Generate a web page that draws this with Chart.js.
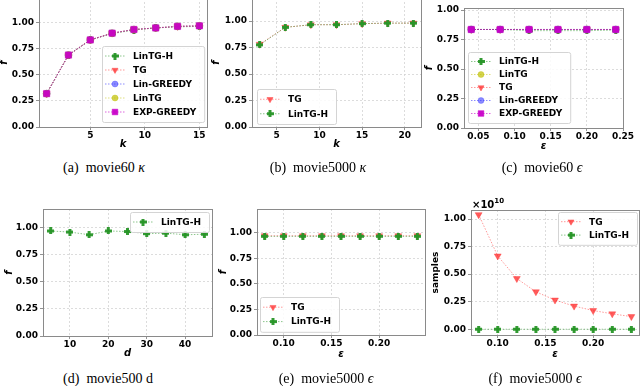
<!DOCTYPE html>
<html lang="en">
<head>
<meta charset="UTF-8">
<title>movie experiments</title>
<script src="https://cdn.jsdelivr.net/npm/chart.js@4"></script>
<style>
  html, body { margin: 0; padding: 0; background: #fff; }
  #fig { position: relative; width: 640px; height: 386px; overflow: hidden; background: #fff; }
  #fig canvas { position: absolute; }
  .cap { position: absolute; font-family: 'Liberation Serif', 'Times New Roman', serif; font-size: 14px;
         white-space: nowrap; transform: translate(-50%, -50%); color: #000; }
</style>
</head>
<body>
<div id="fig">
  <canvas id="cA"></canvas>
  <canvas id="cB"></canvas>
  <canvas id="cC"></canvas>
  <canvas id="cD"></canvas>
  <canvas id="cE"></canvas>
  <canvas id="cF"></canvas>
  <div class="cap" style="left:104px;top:168px">(a)&nbsp; movie60 <i>κ</i></div>
  <div class="cap" style="left:318px;top:168px">(b)&nbsp; movie5000 <i>κ</i></div>
  <div class="cap" style="left:542px;top:168px">(c)&nbsp; movie60 <i>ϵ</i></div>
  <div class="cap" style="left:108px;top:379px">(d)&nbsp; movie500 d</div>
  <div class="cap" style="left:326px;top:379px">(e)&nbsp; movie5000 <i>ϵ</i></div>
  <div class="cap" style="left:535px;top:379px">(f)&nbsp; movie5000 <i>ϵ</i></div>
</div>
<script>
// ---- data ----
// (a) movie60, f vs k
const kA = [1, 3, 5, 7, 9, 11, 13, 15];
const aLinTGH    = [0.32, 0.69, 0.835, 0.895, 0.93, 0.95, 0.96, 0.965];
const aTG        = [0.32, 0.69, 0.835, 0.90, 0.935, 0.95, 0.965, 0.97];
const aLinGreedy = [0.32, 0.69, 0.835, 0.90, 0.935, 0.95, 0.965, 0.97];
const aLinTG     = [0.32, 0.69, 0.835, 0.90, 0.935, 0.95, 0.965, 0.97];
const aExpGreedy = [0.32, 0.69, 0.835, 0.90, 0.935, 0.95, 0.965, 0.97];

// (b) movie5000, f vs k
const kB = [3, 6, 9, 12, 15, 18, 21];
const bTG     = [0.78, 0.94, 0.965, 0.965, 0.975, 0.98, 0.98];
const bLinTGH = [0.775, 0.94, 0.965, 0.965, 0.975, 0.98, 0.98];

// (c) movie60, f vs epsilon
const epsC = [0.04, 0.08, 0.12, 0.16, 0.20, 0.24];
const cLinTGH    = [0.835, 0.835, 0.825, 0.825, 0.825, 0.83];
const cLinTG     = [0.835, 0.835, 0.835, 0.835, 0.835, 0.835];
const cTG        = [0.835, 0.835, 0.835, 0.835, 0.835, 0.835];
const cLinGreedy = [0.835, 0.835, 0.835, 0.835, 0.835, 0.835];
const cExpGreedy = [0.835, 0.835, 0.835, 0.835, 0.835, 0.835];

// (d) movie500, f vs d
const dimD = [5, 10, 15, 20, 25, 30, 35, 40, 45];
const dLinTGH = [0.97, 0.96, 0.935, 0.97, 0.965, 0.945, 0.95, 0.935, 0.94];

// (e) movie5000, f vs epsilon
const epsE = [0.08, 0.10, 0.12, 0.14, 0.16, 0.18, 0.20, 0.22, 0.24];
const eTG     = [0.97, 0.97, 0.97, 0.97, 0.97, 0.97, 0.97, 0.97, 0.97];
const eLinTGH = [0.965, 0.965, 0.965, 0.965, 0.965, 0.965, 0.965, 0.965, 0.965];

// (f) movie5000, samples vs epsilon
const fTG     = [1.04e10, 0.665e10, 0.46e10, 0.34e10, 0.265e10, 0.21e10, 0.17e10, 0.14e10, 0.115e10];
const fLinTGH = [2e6, 2e6, 2e6, 2e6, 2e6, 2e6, 2e6, 2e6, 2e6];

// tick labels
const fTicks = [0, 0.25, 0.5, 0.75, 1.0];
const sampleTicks = [0, 0.25e10, 0.5e10, 0.75e10, 1.0e10];
const kTicksA = [5, 10, 15];
const kTicksB = [5, 10, 15, 20];
const epsTicksC = [0.05, 0.10, 0.15, 0.20, 0.25];
const dTicks = [10, 20, 30, 40];
const epsTicksE = [0.10, 0.15, 0.20];

// ---- styles ----
const TICK_FONT = { family: 'DejaVu Sans', size: 9, weight: 'bold' };
const AXIS_FONT = { family: 'DejaVu Sans', size: 10, weight: 'bold', style: 'italic' };

// filled plus marker (matplotlib "P")
function plusMarker(color, size) {
  const c = document.createElement('canvas');
  c.width = c.height = size;
  const g = c.getContext('2d');
  g.fillStyle = color;
  const t = 3, o = (size - t) / 2;
  g.fillRect(o, 0, t, size);
  g.fillRect(0, o, size, t);
  return c;
}

const styles = {
  'LinTG-H':    { line: 'rgba(0,128,0,0.45)', fill: 'rgba(30,145,30,0.9)', pointStyle: plusMarker('rgba(40,150,40,0.95)', 7), radius: 3.5 },
  'TG':         { line: 'rgba(255,0,0,0.4)', fill: 'rgba(255,40,40,0.75)', pointStyle: 'triangle', rotation: 180, radius: 4 },
  'Lin-GREEDY': { line: 'rgba(0,0,255,0.45)', fill: 'rgba(60,60,255,0.6)', pointStyle: 'circle', radius: 3.5 },
  'LinTG':      { line: 'rgba(191,191,0,0.5)', fill: 'rgba(191,191,0,0.7)', pointStyle: 'circle', radius: 3.5 },
  'EXP-GREEDY': { line: 'rgba(200,0,200,0.6)', fill: 'rgba(200,0,200,0.95)', pointStyle: 'rect', radius: 4.5 }
};

function series(name, xs, ys) {
  const s = styles[name];
  return {
    label: name,
    data: xs.map((x, i) => ({ x: x, y: ys[i] })),
    borderColor: s.line,
    borderWidth: 1,
    borderDash: [1.5, 1.5],
    pointStyle: s.pointStyle,
    pointRotation: s.rotation || 0,
    pointRadius: s.radius,
    pointBackgroundColor: s.fill,
    pointBorderColor: s.fill,
    pointBorderWidth: 0.5,
    tension: 0
  };
}

// legend with box, drawn inside the axes like matplotlib
const boxLegend = {
  id: 'boxLegend',
  afterDatasetsDraw(chart, args, o) {
    if (!o || !o.order) return;
    const ctx = chart.ctx, a = chart.chartArea;
    ctx.save();
    ctx.font = 'bold 9px "DejaVu Sans"';
    const tw = Math.max(...o.order.map(n => ctx.measureText(n).width));
    const x0 = Math.round(a.left + o.x), y0 = Math.round(a.top + o.y);
    const w = 34 + tw + 5, h = o.order.length * o.row + 6;
    ctx.fillStyle = 'rgba(255,255,255,0.85)';
    ctx.strokeStyle = '#d4d4d4';
    ctx.lineWidth = 1;
    ctx.beginPath();
    ctx.roundRect(x0 + 0.5, y0 + 0.5, w, h, 2);
    ctx.fill();
    ctx.stroke();
    o.order.forEach((name, i) => {
      const ds = chart.data.datasets.find(d => d.label === name);
      const cy = y0 + 3 + o.row * (i + 0.5);
      ctx.strokeStyle = ds.borderColor;
      ctx.lineWidth = 1;
      ctx.setLineDash(ds.borderDash);
      ctx.beginPath();
      ctx.moveTo(x0 + 3, cy);
      ctx.lineTo(x0 + 23, cy);
      ctx.stroke();
      ctx.setLineDash([]);
      ctx.fillStyle = ds.pointBackgroundColor;
      ctx.strokeStyle = ds.pointBorderColor;
      ctx.lineWidth = ds.pointBorderWidth;
      Chart.helpers.drawPoint(ctx, {
        pointStyle: ds.pointStyle, rotation: ds.pointRotation, radius: ds.pointRadius - 0.5, borderWidth: ds.pointBorderWidth
      }, x0 + 13, cy);
      ctx.fillStyle = '#000';
      ctx.textBaseline = 'middle';
      ctx.textAlign = 'left';
      ctx.fillText(name, x0 + 31, cy + 0.5);
    });
    ctx.restore();
  }
};

// grey frame around the axes, plus optional offset text (x10^10)
const frame = {
  id: 'frame',
  beforeDatasetsDraw(chart) {
    const ctx = chart.ctx, a = chart.chartArea;
    ctx.save();
    ctx.strokeStyle = '#8a8a8a';
    ctx.lineWidth = 1;
    ctx.strokeRect(Math.round(a.left) + 0.5, Math.round(a.top) + 0.5,
                   Math.round(a.right - a.left), Math.round(a.bottom - a.top));
    ctx.restore();
  },
  afterDraw(chart, args, o) {
    if (!o || !o.offset) return;
    const ctx = chart.ctx, a = chart.chartArea;
    ctx.save();
    ctx.fillStyle = '#000';
    ctx.textBaseline = 'alphabetic';
    ctx.font = 'bold 10px "DejaVu Sans"';
    ctx.fillText('×10', a.left + 1, a.top - 2);
    const w = ctx.measureText('×10').width;
    ctx.font = 'bold 7px "DejaVu Sans"';
    ctx.fillText(o.offset, a.left + 1 + w, a.top - 7);
    ctx.restore();
  }
};

function axis(min, max, ticks, fmt, size, title, titleFont, isX) {
  return {
    type: 'linear',
    min: min,
    max: max,
    afterFit: s => { if (isX) s.height = size; else s.width = size; },
    afterBuildTicks: s => { s.ticks = ticks.map(v => ({ value: v })); },
    ticks: { font: TICK_FONT, color: '#000', padding: isX ? 0 : 2, maxRotation: 0, autoSkip: false, callback: fmt },
    grid: { color: '#d4d4d4', lineWidth: 0.8, tickLength: 3, tickColor: '#777', tickBorderDash: [], tickWidth: 0.8 },
    border: { display: false, dash: [2, 2] },
    title: { display: true, text: title, font: titleFont, color: '#000', padding: 0 }
  };
}

const intFmt = v => String(v);
const fix2 = v => v.toFixed(2);
const sciFmt = v => (v / 1e10).toFixed(2);

function makeChart(id, g, datasets, xs, ys, plugins) {
  const cv = document.getElementById(id);
  cv.width = g.width;
  cv.height = g.height;
  cv.style.left = g.left + 'px';
  cv.style.top = g.top + 'px';
  return new Chart(cv, {
    type: 'line',
    data: { datasets: datasets },
    options: {
      responsive: false,
      animation: false,
      devicePixelRatio: 1,
      layout: { autoPadding: false, padding: { left: 0, bottom: 0, top: g.padT, right: g.padR } },
      scales: { x: xs, y: ys },
      plugins: Object.assign({ legend: { display: false }, tooltip: { enabled: false } }, plugins)
    },
    plugins: [frame, boxLegend]
  });
}

// (a)
makeChart('cA', { left: -2, top: -10, width: 219, height: 160, padT: 8, padR: 10 },
  [series('EXP-GREEDY', kA, aExpGreedy), series('LinTG', kA, aLinTG), series('Lin-GREEDY', kA, aLinGreedy),
   series('TG', kA, aTG), series('LinTG-H', kA, aLinTGH)],
  axis(0.3, 15.7, kTicksA, intFmt, 23, 'k', AXIS_FONT, true),
  axis(0, 1.237, fTicks, fix2, 41, 'f', AXIS_FONT, false),
  { boxLegend: { x: 63, y: 48, row: 14, order: ['LinTG-H', 'TG', 'Lin-GREEDY', 'LinTG', 'EXP-GREEDY'] } });

// (b)
makeChart('cB', { left: 210, top: -10, width: 219, height: 160, padT: 8, padR: 8 },
  [series('LinTG-H', kB, bLinTGH), series('TG', kB, bTG)],
  axis(2.1, 21.9, kTicksB, intFmt, 23, 'k', AXIS_FONT, true),
  axis(0, 1.217, fTicks, fix2, 42, 'f', AXIS_FONT, false),
  { boxLegend: { x: 4.7, y: 90.7, row: 14.5, order: ['TG', 'LinTG-H'] } });

// (c)
makeChart('cC', { left: 423, top: 0, width: 217, height: 152, padT: 8, padR: 17 },
  [series('EXP-GREEDY', epsC, cExpGreedy), series('Lin-GREEDY', epsC, cLinGreedy), series('TG', epsC, cTG),
   series('LinTG', epsC, cLinTG), series('LinTG-H', epsC, cLinTGH)],
  axis(0.03, 0.25, epsTicksC, fix2, 24, 'ε', AXIS_FONT, true),
  axis(0, 1.017, fTicks, fix2, 41, 'f', AXIS_FONT, false),
  { boxLegend: { x: 3.7, y: 44, row: 13, order: ['LinTG-H', 'LinTG', 'TG', 'Lin-GREEDY', 'EXP-GREEDY'] } });

// (d)
makeChart('cD', { left: 3, top: 201, width: 217, height: 158, padT: 8, padR: 8 },
  [series('LinTG-H', dimD, dLinTGH)],
  axis(3, 47, dTicks, intFmt, 23, 'd', AXIS_FONT, true),
  axis(0, 1.173, fTicks, fix2, 40, 'f', AXIS_FONT, false),
  { boxLegend: { x: 87, y: 3, row: 14, order: ['LinTG-H'] } });

// (e)
makeChart('cE', { left: 217, top: 201, width: 213, height: 159, padT: 8, padR: 5 },
  [series('LinTG-H', epsE, eLinTGH), series('TG', epsE, eTG)],
  axis(0.072, 0.248, epsTicksE, fix2, 25, 'ε', AXIS_FONT, true),
  axis(0, 1.232, fTicks, fix2, 40, 'f', AXIS_FONT, false),
  { boxLegend: { x: 3, y: 88.3, row: 14.4, order: ['TG', 'LinTG-H'] } });

// (f)
makeChart('cF', { left: 430, top: 195, width: 210, height: 165, padT: 15, padR: 1 },
  [series('LinTG-H', epsE, fLinTGH), series('TG', epsE, fTG)],
  axis(0.072, 0.248, epsTicksE, fix2, 25, 'ε', AXIS_FONT, true),
  axis(-0.052e10, 1.082e10, sampleTicks, sciFmt, 41, 'samples', { family: 'DejaVu Sans', size: 9, weight: 'bold' }, false),
  { boxLegend: { x: 87.3, y: 2.3, row: 13.4, order: ['TG', 'LinTG-H'] }, frame: { offset: '10' } });
</script>
</body>
</html>
